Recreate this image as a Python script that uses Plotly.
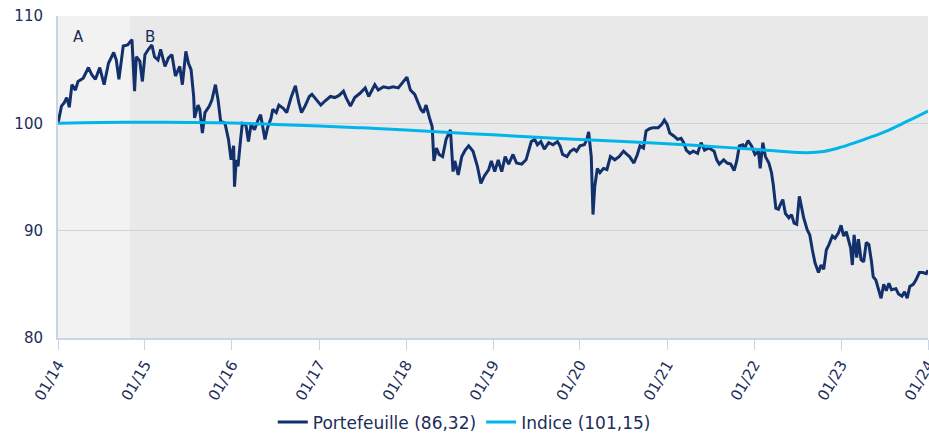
import pandas as pd
import plotly.graph_objects as go

# Portefeuille: (decimal year, value)
port_years = [
    2014.00, 2014.02, 2014.04, 2014.07, 2014.10, 2014.13, 2014.16, 2014.20, 2014.23, 2014.29,
    2014.35, 2014.39, 2014.43, 2014.48, 2014.53, 2014.58, 2014.64, 2014.67, 2014.70, 2014.75,
    2014.80, 2014.85, 2014.88, 2014.90, 2014.94, 2014.97, 2015.00, 2015.04, 2015.08, 2015.11,
    2015.15, 2015.18, 2015.23, 2015.27, 2015.31, 2015.35, 2015.40, 2015.43, 2015.47, 2015.50,
    2015.53, 2015.56, 2015.57, 2015.61, 2015.63, 2015.66, 2015.69, 2015.74, 2015.77, 2015.81,
    2015.84, 2015.87, 2015.92, 2015.96, 2015.99, 2016.02, 2016.03, 2016.05, 2016.07, 2016.10,
    2016.12, 2016.16, 2016.19, 2016.22, 2016.26, 2016.30, 2016.33, 2016.38, 2016.41, 2016.45,
    2016.47, 2016.51, 2016.54, 2016.59, 2016.63, 2016.68, 2016.73, 2016.77, 2016.80, 2016.84,
    2016.89, 2016.92, 2016.97, 2017.02, 2017.07, 2017.13, 2017.18, 2017.23, 2017.28, 2017.31,
    2017.36, 2017.41, 2017.47, 2017.53, 2017.57, 2017.64, 2017.68, 2017.74, 2017.80, 2017.85,
    2017.91, 2017.96, 2018.01, 2018.05, 2018.10, 2018.14, 2018.17, 2018.20, 2018.23, 2018.27,
    2018.30, 2018.32, 2018.35, 2018.38, 2018.42, 2018.46, 2018.51, 2018.54, 2018.56, 2018.60,
    2018.64, 2018.68, 2018.72, 2018.77, 2018.82, 2018.86, 2018.90, 2018.95, 2018.98, 2019.02,
    2019.06, 2019.10, 2019.14, 2019.18, 2019.23, 2019.27, 2019.33, 2019.38, 2019.42, 2019.44,
    2019.48, 2019.51, 2019.55, 2019.59, 2019.64, 2019.69, 2019.74, 2019.77, 2019.80, 2019.85,
    2019.89, 2019.93, 2019.96, 2020.00, 2020.05, 2020.08, 2020.10, 2020.13, 2020.15, 2020.17,
    2020.20, 2020.23, 2020.27, 2020.31, 2020.35, 2020.40, 2020.45, 2020.50, 2020.54, 2020.57,
    2020.62, 2020.66, 2020.69, 2020.73, 2020.76, 2020.80, 2020.84, 2020.90, 2020.94, 2020.97,
    2021.00, 2021.03, 2021.08, 2021.12, 2021.16, 2021.19, 2021.22, 2021.26, 2021.30, 2021.35,
    2021.39, 2021.43, 2021.48, 2021.54, 2021.57, 2021.60, 2021.65, 2021.69, 2021.73, 2021.77,
    2021.80, 2021.83, 2021.87, 2021.89, 2021.93, 2021.97, 2022.01, 2022.05, 2022.07, 2022.10,
    2022.13, 2022.17, 2022.20, 2022.22, 2022.25, 2022.28, 2022.30, 2022.33, 2022.36, 2022.40,
    2022.43, 2022.46, 2022.49, 2022.52, 2022.54, 2022.57, 2022.61, 2022.64, 2022.67, 2022.70,
    2022.74, 2022.77, 2022.80, 2022.83, 2022.86, 2022.90, 2022.93, 2022.97, 2023.00, 2023.03,
    2023.06, 2023.09, 2023.11, 2023.13, 2023.15, 2023.18, 2023.20, 2023.23, 2023.26, 2023.29,
    2023.32, 2023.35, 2023.37, 2023.40, 2023.43, 2023.46, 2023.49, 2023.52, 2023.55, 2023.58,
    2023.63, 2023.66, 2023.70, 2023.73, 2023.76, 2023.79, 2023.83, 2023.86, 2023.90, 2023.94,
    2023.98, 2024.00,
]
port_values = [
    100.0, 100.8, 101.6, 101.9, 102.4, 101.5, 103.6, 103.1, 103.9, 104.2,
    105.2, 104.5, 104.1, 105.2, 103.6, 105.6, 106.6, 105.9, 104.1, 107.2,
    107.3, 107.8, 103.0, 106.2, 105.8, 103.9, 106.4, 106.9, 107.3, 106.2,
    105.9, 106.9, 105.3, 106.1, 106.4, 104.4, 105.3, 103.6, 106.7, 105.6,
    105.0, 102.5, 100.5, 101.7, 101.3, 99.1, 101.0, 101.6, 102.2, 103.6,
    102.2, 100.2, 100.0, 98.5, 96.6, 97.9, 94.1, 96.6, 96.0, 98.5,
    100.0, 99.9, 98.3, 99.9, 99.4, 100.3, 100.8, 98.5, 99.6, 100.5,
    101.3, 101.0, 101.7, 101.4, 101.0, 102.4, 103.5, 101.9, 101.0, 101.6,
    102.5, 102.7, 102.2, 101.7, 102.1, 102.5, 102.4, 102.6, 103.0, 102.4,
    101.6, 102.4, 102.8, 103.3, 102.5, 103.6, 103.1, 103.4, 103.3, 103.4,
    103.3, 103.8, 104.3, 103.1, 102.7, 101.9, 101.3, 101.0, 101.7, 100.5,
    99.7, 96.5, 97.7, 97.1, 96.9, 98.5, 99.4, 95.5, 96.5, 95.2,
    96.9, 97.5, 97.9, 97.4, 96.0, 94.4, 95.1, 95.7, 96.5, 95.5,
    96.6, 95.5, 96.9, 96.2, 97.1, 96.3, 96.2, 96.6, 97.7, 98.3,
    98.5, 98.0, 98.3, 97.6, 98.2, 98.0, 98.3, 97.9, 97.1, 96.9,
    97.4, 97.6, 97.4, 97.9, 98.0, 98.5, 99.2, 96.9, 91.5, 94.1,
    95.8, 95.4, 95.8, 95.7, 96.9, 96.6, 96.9, 97.4, 97.1, 96.9,
    96.3, 97.1, 97.9, 97.7, 99.3, 99.5, 99.6, 99.6, 99.9, 100.3,
    99.9, 99.1, 98.8, 98.5, 98.6, 98.2, 97.5, 97.2, 97.4, 97.2,
    98.2, 97.5, 97.7, 97.4, 96.6, 96.2, 96.6, 96.3, 96.2, 95.6,
    96.5, 97.9, 98.0, 97.7, 98.4, 97.9, 97.1, 97.4, 95.8, 98.2,
    96.9, 96.3, 95.4, 94.3, 92.1, 92.0, 92.4, 92.9, 91.6, 91.2,
    91.5, 90.7, 90.6, 93.2, 92.4, 91.2, 90.1, 89.6, 88.2, 87.0,
    86.1, 86.8, 86.4, 88.2, 88.7, 89.5, 89.3, 89.8, 90.5, 89.5,
    89.9, 88.9, 88.4, 86.8, 89.6, 87.5, 89.2, 87.3, 87.1, 88.9,
    88.7, 87.1, 85.7, 85.4, 84.5, 83.7, 85.0, 84.4, 85.1, 84.5,
    84.6, 84.1, 83.9, 84.3, 83.7, 84.8, 85.0, 85.4, 86.1, 86.1,
    86.0, 86.32,
]

# Indice: (decimal year, value)
idx_years = [2014.0, 2014.5, 2015.0, 2015.5, 2016.0, 2016.5, 2017.0, 2017.5, 2018.0, 2018.5,
             2019.0, 2019.5, 2020.0, 2020.5, 2021.0, 2021.5, 2022.0, 2022.3, 2022.6, 2022.8,
             2023.0, 2023.25, 2023.5, 2023.75, 2024.0]
idx_values = [100.0, 100.08, 100.1, 100.08, 100.03, 99.9, 99.75, 99.58, 99.38, 99.15,
              98.93, 98.7, 98.5, 98.3, 98.1, 97.85, 97.58, 97.4, 97.27, 97.38,
              97.78, 98.45, 99.2, 100.15, 101.15]

# Periods A and B
period_labels = ["A", "B"]
period_starts = ["2014-01-01", "2014-10-30"]
period_ends = ["2014-10-30", "2024-01-01"]
period_colors = ["#f2f2f2", "#e9e9e9"]

tick_dates = [f"{y}-01-01" for y in range(2014, 2025)]
tick_labels = [f"01/{str(y)[2:]}" for y in range(2014, 2025)]

legend_port = "Portefeuille (86,32)"
legend_idx = "Indice (101,15)"


def to_dates(years):
    out = []
    for y in years:
        base = int(y)
        out.append(pd.Timestamp(base, 1, 1) + pd.Timedelta(days=(y - base) * 365.25))
    return out


NAVY = "#12306c"
CYAN = "#00b5ea"
TXT = "#1c2d5a"
GRID = "#c9d5e5"

fig = go.Figure()
fig.add_trace(go.Scatter(x=to_dates(port_years), y=port_values, mode="lines",
                         name=legend_port, line=dict(color=NAVY, width=3)))
fig.add_trace(go.Scatter(x=to_dates(idx_years), y=idx_values, mode="lines",
                         name=legend_idx, line=dict(color=CYAN, width=3, shape="spline")))

for lab, s, e, c in zip(period_labels, period_starts, period_ends, period_colors):
    fig.add_shape(type="rect", xref="x", yref="paper", x0=s, x1=e, y0=0, y1=1,
                  fillcolor=c, line=dict(width=0), layer="below")
    fig.add_annotation(x=s, y=1, xref="x", yref="paper", text=lab, showarrow=False,
                       xanchor="left", yanchor="top", xshift=13, yshift=-10,
                       font=dict(size=15, color=TXT, family="DejaVu Sans"))

fig.update_layout(
    width=929, height=442,
    margin=dict(l=58, r=1, t=16, b=104),
    paper_bgcolor="white", plot_bgcolor="white",
    font=dict(family="DejaVu Sans", color=TXT, size=14),
    showlegend=True,
    legend=dict(orientation="h", x=0.467, xanchor="center",
                y=-0.318, yanchor="bottom",
                font=dict(size=17, color=TXT), bgcolor="rgba(0,0,0,0)"),
    hovermode=False,
)
fig.update_xaxes(range=["2014-01-01", "2024-01-01"], tickvals=tick_dates, ticktext=tick_labels,
                 tickangle=-60, ticks="outside", ticklen=10, tickcolor=GRID, tickwidth=1,
                 showgrid=False, showline=True, linecolor=GRID, linewidth=2,
                 tickfont=dict(size=15, color=TXT), zeroline=False,
                 ticklabeloverflow="allow", automargin=False)
fig.update_yaxes(range=[80, 110], tickvals=[80, 90, 100, 110], showgrid=True, gridcolor=GRID,
                 gridwidth=1, showline=True, linecolor=GRID, linewidth=2, ticks="",
                 ticklabelstandoff=10, tickfont=dict(size=15, color=TXT), zeroline=False,
                 ticklabeloverflow="allow", automargin=False)

# remove the default page margin so the 929x442 figure fills the window exactly
fig.write_html("out.html", config={"displayModeBar": False},
               post_script="document.body.style.margin='0px';document.body.style.overflow='hidden';")
